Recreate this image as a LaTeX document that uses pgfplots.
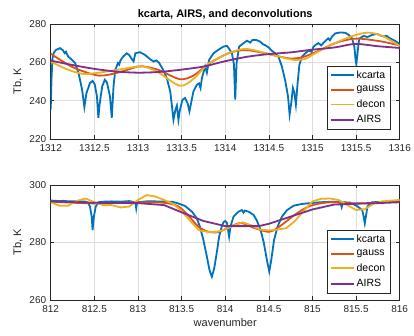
\documentclass[border=0pt]{standalone}
\usepackage{pgfplots}
\pgfplotsset{compat=1.18}
\usepackage{fontspec}
\setmainfont{Liberation Sans}
\definecolor{c1}{rgb}{0,0.447,0.741}
\definecolor{c2}{rgb}{0.85,0.325,0.098}
\definecolor{c3}{rgb}{0.929,0.694,0.125}
\definecolor{c4}{rgb}{0.494,0.184,0.556}
\definecolor{axc}{rgb}{0.15,0.15,0.15}
\definecolor{grc}{rgb}{0.87,0.87,0.87}
\pgfplotsset{
  mstyle/.style={
    scale only axis, width=349pt, height=115pt,
    axis line style={axc, line width=0.5pt},
    tick style={axc, line width=0.5pt}, major tick length=3.5pt,
    tick align=inside,
    xtick pos=both, ytick pos=both,
    grid=major, major grid style={grc, line width=0.5pt},
    tick label style={font=\fontsize{10}{12}\selectfont, text=axc},
    xticklabel style={yshift=-1.5pt},
    yticklabel style={xshift=-1pt},
    /pgf/number format/assume math mode=true,
    /pgf/number format/1000 sep={},
    label style={font=\fontsize{11}{13}\selectfont, text=axc},
    xmin=0, xmax=4,
    xtick={0,0.5,...,4},
    legend cell align=left,
    legend style={draw=axc, fill=white, font=\fontsize{10.5}{12}\selectfont, inner sep=2.5pt, row sep=2.5pt},
    legend image code/.code={\draw[#1, line width=1.8pt] (0cm,0cm) -- (0.8cm,0cm);},
    every axis plot/.append style={line width=1.8pt},
    clip=true,
  }
}
\begin{document}
\begin{tikzpicture}
\begin{axis}[mstyle, at={(0,161pt)},
  ymin=220, ymax=280, ytick={220,240,260,280},
  xticklabels={1312,1312.5,1313,1313.5,1314,1314.5,1315,1315.5,1316},
  ylabel={Tb, K},
  title={\bfseries kcarta, AIRS, and deconvolutions},
  title style={font=\fontsize{11}{13}\selectfont\bfseries, text=black, yshift=-5pt},
  legend style={at={(0.972,0.087)}, anchor=south east},
]
\addplot[c1] table[x expr=\thisrowno{0}-1312, y index=1] {
1312.000 235.3
1312.01 252
1312.02 262
1312.035 265
1312.06 266.5
1312.107 267.4
1312.14 266.3
1312.16 264.8
1312.175 265.5
1312.20 263
1312.24 261.5
1312.28 259.6
1312.32 254.3
1312.36 245.7
1312.386 236.7
1312.41 244
1312.45 249.2
1312.48 250.3
1312.505 248.5
1312.53 242.2
1312.546 231
1312.56 238
1312.59 247.4
1312.62 250.9
1312.645 249.5
1312.68 242
1312.70 231
1312.72 247.4
1312.74 256
1312.77 259.6
1312.785 258.8
1312.80 261
1312.83 263
1312.87 264.7
1312.90 263.8
1312.925 262
1312.95 260.5
1312.97 264.7
1313.02 265.3
1313.08 263.9
1313.14 261.6
1313.18 260.4
1313.21 261
1313.24 259.9
1313.29 256
1313.33 251.8
1313.37 244.8
1313.39 237
1313.407 230
1313.43 235.3
1313.446 237.4
1313.464 230
1313.48 235
1313.51 240.5
1313.54 241.4
1313.57 238.5
1313.59 234.4
1313.61 239
1313.636 244.8
1313.675 248.3
1313.70 249
1313.717 246.6
1313.733 251.8
1313.77 257.8
1313.79 254.6
1313.816 261.3
1313.866 264.7
1313.92 266.5
1313.98 268.2
1314.02 268.6
1314.04 267.4
1314.077 264.7
1314.10 259
1314.115 240.5
1314.13 259.5
1314.16 268.2
1314.21 270
1314.25 271.3
1314.287 270.3
1314.31 271.6
1314.36 271.6
1314.40 270.8
1314.43 269.5
1314.46 268.9
1314.50 267.7
1314.536 266
1314.574 264.7
1314.61 263
1314.65 257.8
1314.69 250
1314.72 242.2
1314.738 232.7
1314.757 238.8
1314.776 246.6
1314.793 244
1314.81 237.9
1314.83 249.2
1314.85 258.7
1314.88 263
1314.918 264.7
1314.956 266.1
1314.99 265.5
1315.01 268
1315.033 269
1315.07 270
1315.10 268.8
1315.14 270.8
1315.18 272.5
1315.20 271.5
1315.224 273.4
1315.262 275.1
1315.32 275.6
1315.377 275.4
1315.415 274.3
1315.454 272.5
1315.48 268.2
1315.495 261
1315.503 259
1315.515 264
1315.53 270.5
1315.54 272.5
1315.587 273.8
1315.63 273.2
1315.683 274.3
1315.74 274.8
1315.78 274
1315.816 273.5
1315.85 273.8
1315.89 272.5
1315.95 271.1
1316.0 269.5
};
\addlegendentry{kcarta}
\addplot[c2, smooth] table[x expr=\thisrowno{0}-1312, y index=1] {
1312.00 264.5
1312.25 257.5
1312.50 253.5
1312.62 253.2
1312.80 255
1313.00 257.8
1313.10 257.6
1313.25 255.8
1313.48 251.2
1313.64 253.2
1313.81 259.2
1314.04 264.8
1314.23 266.4
1314.45 264.8
1314.62 263
1314.75 262
1314.88 262.6
1315.03 265.2
1315.26 270
1315.45 272.2
1315.58 272.2
1315.80 270.8
1316.00 268.8
};
\addlegendentry{gauss}
\addplot[c3, smooth] table[x expr=\thisrowno{0}-1312, y index=1] {
1312.00 260.4
1312.18 256.5
1312.36 254
1312.52 254.4
1312.75 256
1313.00 257.8
1313.10 257.4
1313.24 254.6
1313.48 247.8
1313.64 251.5
1313.81 259.4
1314.04 264.7
1314.23 267
1314.45 265
1314.62 263
1314.78 261.3
1314.92 261.8
1315.03 264.7
1315.26 270
1315.45 273.6
1315.63 275.5
1315.80 273.8
1316.00 268.5
};
\addlegendentry{decon}
\addplot[c4, smooth] table[x expr=\thisrowno{0}-1312, y index=1] {
1312.00 260.9
1312.25 258.6
1312.50 256.6
1312.75 255.2
1313.00 254.6
1313.25 255.0
1313.50 256.2
1313.75 257.8
1314.00 260.6
1314.25 262.9
1314.50 264.3
1314.75 265.2
1315.00 266.6
1315.26 267.8
1315.49 269.6
1315.75 268.4
1316.00 267.5
};
\addlegendentry{AIRS}
\end{axis}
\begin{axis}[mstyle, at={(0,0)},
  ymin=260, ymax=300, ytick={260,280,300},
  xticklabels={812,812.5,813,813.5,814,814.5,815,815.5,816},
  ylabel={Tb, K}, xlabel={wavenumber},
  legend style={at={(0.972,0.061)}, anchor=south east},
]
\addplot[c1] table[x expr=\thisrowno{0}-812, y index=1] {
812.0 294.6
812.1 294.4
812.15 294.5
812.2 294.3
812.3 294.4
812.4 294.2
812.43 293.8
812.45 292.5
812.47 289
812.48 284.3
812.495 289
812.516 292.5
812.546 294
812.6 294.2
812.7 294.3
812.8 294.2
812.9 294.4
812.97 294
812.98 291.9
812.99 294
813.1 294.3
813.2 294.3
813.3 294.2
813.39 294.2
813.46 293.6
813.54 292.7
813.62 290.7
813.675 288.4
813.71 285.5
813.75 280.9
813.79 275.1
813.82 270.4
813.847 268.1
813.874 271
813.905 276.8
813.93 282
813.96 285.5
813.98 287
814.0 287.5
814.02 286.8
814.035 284
814.045 282
814.06 285.5
814.095 289
814.15 290.7
814.19 291.3
814.21 290.4
814.225 291.1
814.27 290.7
814.325 289.6
814.36 287.8
814.40 284.9
814.44 280.3
814.478 273.9
814.505 269.9
814.528 273.9
814.56 280.9
814.60 285.5
814.65 289
814.71 291.3
814.784 292.8
814.88 293.4
814.975 293.7
815.09 294
815.24 294.2
815.32 294
815.335 292.3
815.35 294
815.43 293.9
815.51 292.7
815.57 291.3
815.587 289
815.60 286.7
815.615 289.5
815.63 292.5
815.68 294
815.855 294.2
816.0 294.5
};
\addlegendentry{kcarta}
\addplot[c2, smooth] table[x expr=\thisrowno{0}-812, y index=1] {
812.00 294.2
812.50 293.6
813.00 294.0
813.30 293.8
813.46 292.6
813.58 289.3
813.69 285.6
813.80 283.8
813.92 283.6
814.05 285.4
814.18 286.8
814.32 285.2
814.50 283.7
814.61 285.3
814.82 290.1
814.98 292.8
815.20 294.0
815.50 293.6
815.75 293.9
816.00 294.6
};
\addlegendentry{gauss}
\addplot[c3] table[x expr=\thisrowno{0}-812, y index=1] {
812.00 294.0
812.10 292.8
812.20 292.8
812.30 294.5
812.40 295.3
812.50 294.0
812.60 293.0
812.70 293.0
812.80 292.2
812.90 292.5
813.00 294.8
813.10 296.5
813.20 296.0
813.30 294.8
813.40 293.5
813.50 291.0
813.60 287.5
813.70 284.2
813.80 283.7
813.90 283.7
814.00 284.5
814.10 286.0
814.20 287.0
814.30 286.0
814.40 284.5
814.50 284.2
814.60 284.5
814.70 285.0
814.80 287.5
814.90 291.0
815.00 294.3
815.10 295.2
815.20 295.3
815.30 294.8
815.40 293.0
815.50 291.3
815.60 291.6
815.70 293.5
815.80 294.3
816.00 294.8
};
\addlegendentry{decon}
\addplot[c4] table[x expr=\thisrowno{0}-812, y index=1] {
812.00 294.3
812.50 293.8
813.00 293.7
813.30 293.0
813.50 290.5
813.75 287.5
814.00 285.7
814.25 285.7
814.40 285.8
814.50 286.5
814.75 289.0
815.00 291.5
815.25 293.2
815.50 293.5
815.75 293.7
816.00 294.0
};
\addlegendentry{AIRS}
\end{axis}
\pgfresetboundingbox
\path (-50.7pt,-36pt) rectangle (363.3pt,300pt);
\end{tikzpicture}
\end{document}
